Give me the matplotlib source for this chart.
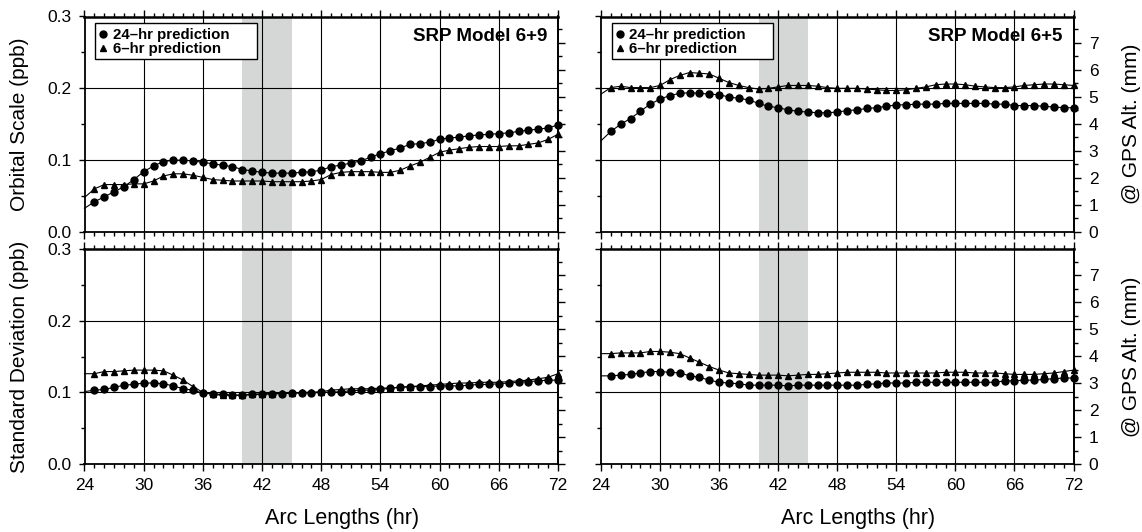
import numpy as np
import matplotlib
matplotlib.use('Agg')
import matplotlib.pyplot as plt
from matplotlib.ticker import MultipleLocator, FixedLocator
from matplotlib.lines import Line2D
from matplotlib.patches import Rectangle

plt.rcParams['font.family'] = ['Liberation Sans', 'DejaVu Sans']

# arc length (hr)
hours = np.arange(24, 73)

# SRP Model 6+9, orbital scale (ppb)
scale_69_24hr = [0.033, 0.042, 0.049, 0.056, 0.063, 0.073, 0.084, 0.092, 0.098, 0.100,
                 0.100, 0.099, 0.097, 0.095, 0.093, 0.091, 0.087, 0.085, 0.083, 0.082,
                 0.082, 0.082, 0.083, 0.084, 0.086, 0.091, 0.093, 0.096, 0.099, 0.104,
                 0.109, 0.113, 0.117, 0.122, 0.123, 0.125, 0.129, 0.131, 0.132, 0.134,
                 0.135, 0.136, 0.137, 0.138, 0.140, 0.142, 0.143, 0.145, 0.149]
scale_69_6hr = [0.048, 0.060, 0.066, 0.066, 0.066, 0.067, 0.067, 0.071, 0.078, 0.081,
                0.081, 0.079, 0.076, 0.073, 0.072, 0.071, 0.071, 0.071, 0.071, 0.070,
                0.070, 0.070, 0.070, 0.071, 0.073, 0.080, 0.083, 0.084, 0.084, 0.084,
                0.083, 0.083, 0.086, 0.092, 0.097, 0.104, 0.111, 0.114, 0.116, 0.118,
                0.119, 0.119, 0.119, 0.120, 0.120, 0.122, 0.124, 0.129, 0.136]

# SRP Model 6+5, orbital scale (ppb)
scale_65_24hr = [0.127, 0.140, 0.150, 0.158, 0.168, 0.178, 0.185, 0.190, 0.193, 0.194,
                 0.193, 0.192, 0.191, 0.188, 0.186, 0.184, 0.179, 0.175, 0.173, 0.170,
                 0.168, 0.167, 0.166, 0.166, 0.167, 0.169, 0.170, 0.172, 0.173, 0.175,
                 0.177, 0.177, 0.178, 0.178, 0.178, 0.179, 0.179, 0.179, 0.179, 0.179,
                 0.178, 0.178, 0.176, 0.176, 0.176, 0.175, 0.174, 0.173, 0.173]
scale_65_6hr = [0.192, 0.201, 0.203, 0.201, 0.201, 0.201, 0.204, 0.212, 0.218, 0.222,
                0.221, 0.220, 0.214, 0.208, 0.204, 0.201, 0.199, 0.200, 0.202, 0.204,
                0.204, 0.204, 0.203, 0.201, 0.200, 0.200, 0.200, 0.199, 0.198, 0.197,
                0.197, 0.198, 0.200, 0.202, 0.205, 0.206, 0.206, 0.205, 0.203, 0.202,
                0.201, 0.201, 0.202, 0.204, 0.205, 0.206, 0.206, 0.205, 0.204]

# SRP Model 6+9, standard deviation (ppb)
std_69_24hr = [0.101, 0.103, 0.104, 0.107, 0.110, 0.111, 0.113, 0.113, 0.112, 0.109,
               0.105, 0.103, 0.099, 0.098, 0.097, 0.096, 0.096, 0.097, 0.098, 0.098,
               0.098, 0.099, 0.099, 0.099, 0.100, 0.100, 0.101, 0.102, 0.103, 0.103,
               0.104, 0.106, 0.107, 0.108, 0.108, 0.108, 0.109, 0.109, 0.109, 0.110,
               0.111, 0.111, 0.112, 0.113, 0.114, 0.115, 0.116, 0.117, 0.117]
std_69_6hr = [0.126, 0.126, 0.129, 0.129, 0.130, 0.131, 0.131, 0.131, 0.130, 0.124,
              0.117, 0.108, 0.100, 0.097, 0.096, 0.096, 0.096, 0.097, 0.097, 0.098,
              0.099, 0.099, 0.100, 0.100, 0.101, 0.103, 0.104, 0.105, 0.105, 0.105,
              0.106, 0.106, 0.107, 0.108, 0.109, 0.110, 0.111, 0.112, 0.113, 0.113,
              0.114, 0.114, 0.114, 0.115, 0.116, 0.117, 0.119, 0.121, 0.126]

# SRP Model 6+5, standard deviation (ppb)
std_65_24hr = [0.123, 0.123, 0.124, 0.125, 0.127, 0.129, 0.129, 0.128, 0.127, 0.123,
               0.121, 0.117, 0.114, 0.113, 0.112, 0.110, 0.110, 0.110, 0.110, 0.109,
               0.110, 0.110, 0.110, 0.110, 0.110, 0.110, 0.110, 0.111, 0.112, 0.113,
               0.113, 0.113, 0.114, 0.114, 0.114, 0.114, 0.114, 0.114, 0.114, 0.114,
               0.114, 0.116, 0.116, 0.117, 0.117, 0.118, 0.119, 0.120, 0.120]
std_65_6hr = [0.154, 0.154, 0.155, 0.155, 0.155, 0.157, 0.157, 0.156, 0.154, 0.148,
              0.142, 0.136, 0.131, 0.127, 0.126, 0.125, 0.124, 0.124, 0.124, 0.123,
              0.124, 0.125, 0.125, 0.126, 0.127, 0.128, 0.128, 0.128, 0.128, 0.127,
              0.127, 0.127, 0.127, 0.127, 0.127, 0.128, 0.128, 0.128, 0.127, 0.127,
              0.127, 0.126, 0.125, 0.125, 0.125, 0.126, 0.127, 0.129, 0.131]

series_labels = ['24\u2013hr prediction', '6\u2013hr prediction']
mm_ticks = [0, 1, 2, 3, 4, 5, 6, 7]

# 1 ppb of the GPS orbit radius, in mm
ppb_to_mm = 26.56

fig = plt.figure(figsize=(11.42, 5.32), dpi=100)

W, H = 1142.0, 532.0
cols = [(84.5, 558.0), (601.0, 1073.5)]
rows = [(16.5, 232.0), (249.0, 464.0)]

panels = [
    (0, 0, scale_69_24hr, scale_69_6hr, 'SRP Model 6+9'),
    (0, 1, scale_65_24hr, scale_65_6hr, 'SRP Model 6+5'),
    (1, 0, std_69_24hr, std_69_6hr, None),
    (1, 1, std_65_24hr, std_65_6hr, None),
]

for r, c, s24, s6, title in panels:
    x0, x1 = cols[c]
    y0, y1 = rows[r]
    ax = fig.add_axes([x0 / W, 1 - y1 / H, (x1 - x0) / W, (y1 - y0) / H])

    ax.axvspan(40, 45, color='#d5d6d6', lw=0, zorder=0)
    for xv in range(30, 72, 6):
        ax.axvline(xv, color='black', lw=0.8, zorder=1)
    for yv in (0.1, 0.2):
        ax.axhline(yv, color='black', lw=0.8, zorder=1)

    ax.plot(hours, s6, color='black', lw=0.8, marker='^', ms=4.3,
            markevery=range(1, len(hours)), zorder=3, clip_on=False)
    ax.plot(hours, s24, color='black', lw=0.8, marker='o', ms=5.0,
            markevery=range(1, len(hours)), zorder=4, clip_on=False)

    ax.set_xlim(24, 72)
    ax.set_ylim(0, 0.3)

    ax.xaxis.set_major_locator(MultipleLocator(6))
    ax.xaxis.set_minor_locator(MultipleLocator(1))
    ax.yaxis.set_major_locator(MultipleLocator(0.1))
    ax.yaxis.set_minor_locator(MultipleLocator(0.05))
    ax.tick_params(which='both', direction='out', top=True, right=False,
                   width=1.0, labelsize=12.5)
    ax.tick_params(which='major', length=4.5, pad=5)
    ax.tick_params(which='minor', length=3)
    ax.tick_params(axis='x', which='major', length=5, pad=5)
    for sp in ax.spines.values():
        sp.set_linewidth(1.3)
    ax.spines['top'].set_linewidth(1.8)

    if r == 0:
        ax.tick_params(axis='x', labelbottom=False)
    else:
        ax.set_xlabel('Arc Lengths (hr)', fontsize=15.5)
        ax.xaxis.set_label_coords(0.544, -0.205)

    if c == 0:
        ax.yaxis.set_major_formatter(lambda v, p: f'{v:.1f}')
        ax.set_ylabel('Orbital Scale (ppb)' if r == 0 else 'Standard Deviation (ppb)',
                      fontsize=15)
        ax.yaxis.set_label_coords(-0.118, 0.5)
    else:
        ax.tick_params(axis='y', labelleft=False)

    sec = ax.secondary_yaxis('right', functions=(lambda v: v * ppb_to_mm,
                                                  lambda m: m / ppb_to_mm))
    sec.yaxis.set_major_locator(FixedLocator(mm_ticks))
    sec.yaxis.set_minor_locator(MultipleLocator(0.5))
    sec.tick_params(which='major', direction='out', length=5, width=1.0,
                    labelsize=12.5, pad=6)
    sec.tick_params(which='minor', direction='out', length=3, width=1.0)
    sec.spines['right'].set_linewidth(1.3)
    if c == 1:
        sec.set_ylabel('@ GPS Alt. (mm)', fontsize=15, labelpad=17)
    else:
        sec.tick_params(labelright=False)

    if title:
        ax.text(0.977, 0.905, title, transform=ax.transAxes, ha='right', va='center',
                fontsize=13.5, fontweight='bold')
        ax.add_patch(Rectangle((0.0232, 0.803), 0.341, 0.167, transform=ax.transAxes,
                               facecolor='white', edgecolor='black', lw=1.0, zorder=9))
        handles = [Line2D([], [], ls='none', marker='o', color='black', ms=5),
                   Line2D([], [], ls='none', marker='^', color='black', ms=4)]
        leg = ax.legend(handles, series_labels, loc='center left',
                        bbox_to_anchor=(0.031, 0.882),
                        prop={'weight': 'bold', 'size': 10.8}, frameon=False,
                        handlelength=0.55, handletextpad=0.35, borderpad=0,
                        labelspacing=0.02, borderaxespad=0)
        leg.set_zorder(10)

fig.savefig('out.png', dpi=100)
